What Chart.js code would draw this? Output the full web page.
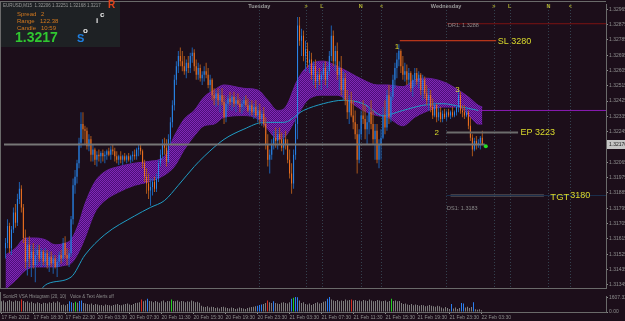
<!DOCTYPE html>
<html><head><meta charset="utf-8">
<script src="https://cdn.jsdelivr.net/npm/chart.js@4.4.1/dist/chart.umd.min.js"></script>
<style>
html,body{margin:0;padding:0;background:#1c0e1a;overflow:hidden;}
#wrap{position:relative;width:625px;height:321px;background:#1c0e1a;}
#main{position:absolute;left:0;top:0;width:625px;height:292px;}
#hist{position:absolute;left:0;top:292px;width:625px;height:29px;}
</style></head>
<body><div id="wrap">
<canvas id="main" width="625" height="292"></canvas>
<canvas id="hist" width="625" height="29"></canvas>
</div>
<script>
// ---------------- DATA ----------------
const timeLabels = ["17 Feb 2012","17 Feb 18:30","17 Feb 22:30","20 Feb 03:30","20 Feb 07:30","20 Feb 11:30","20 Feb 15:30","20 Feb 19:30","20 Feb 23:30","21 Feb 03:30","21 Feb 07:30","21 Feb 11:30","21 Feb 15:30","21 Feb 19:30","21 Feb 23:30","22 Feb 03:30"];
const priceTicks = [1.32965,1.32875,1.32785,1.32695,1.32605,1.32515,1.32425,1.32335,1.32245,1.32155,1.32065,1.31975,1.31885,1.31795,1.31705,1.31615,1.31525,1.31435,1.31345];
const histTicks = [1607.32, 0];

const opens = [1.3156,1.3159,1.3169,1.3156,1.3167,1.3177,1.3171,1.3185,1.3191,1.3180,
1.3162,1.3148,1.3158,1.3150,1.3154,1.3146,1.3152,1.3155,1.3150,1.3154,
1.3148,1.3153,1.3146,1.3151,1.3147,1.3150,1.3145,1.3148,1.3152,1.3150,
1.3159,1.3152,1.3150,1.3153,1.3173,1.3193,1.3198,1.3206,1.3218,1.3229,
1.3226,1.3225,1.3216,1.3220,1.3211,1.3214,1.3208,1.3211,1.3210,1.3212,
1.3210,1.3211,1.3213,1.3211,1.3214,1.3213,1.3210,1.3208,1.3210,1.3208,
1.3210,1.3208,1.3210,1.3208,1.3210,1.3211,1.3210,1.3214,1.3215,1.3213,
1.3206,1.3198,1.3194,1.3190,1.3192,1.3195,1.3191,1.3197,1.3206,1.3211,
1.3217,1.3215,1.3207,1.3220,1.3230,1.3240,1.3255,1.3263,1.3269,1.3266,
1.3263,1.3260,1.3265,1.3262,1.3269,1.3271,1.3263,1.3258,1.3262,1.3256,
1.3258,1.3260,1.3258,1.3252,1.3255,1.3246,1.3244,1.3247,1.3243,1.3246,
1.3242,1.3233,1.3241,1.3244,1.3242,1.3245,1.3241,1.3243,1.3241,1.3239,
1.3241,1.3243,1.3240,1.3237,1.3240,1.3236,1.3239,1.3234,1.3237,1.3232,
1.3235,1.3229,1.3217,1.3208,1.3211,1.3217,1.3221,1.3219,1.3223,1.3220,
1.3215,1.3220,1.3217,1.3208,1.3200,1.3194,1.3211,1.3229,1.3287,1.3278,
1.3281,1.3269,1.3273,1.3265,1.3267,1.3258,1.3263,1.3254,1.3258,1.3255,
1.3258,1.3262,1.3255,1.3260,1.3269,1.3281,1.3266,1.3272,1.3258,1.3262,
1.3249,1.3256,1.3243,1.3236,1.3243,1.3234,1.3230,1.3223,1.3208,1.3223,
1.3234,1.3232,1.3226,1.3230,1.3236,1.3229,1.3220,1.3225,1.3208,1.3217,
1.3221,1.3234,1.3227,1.3246,1.3233,1.3245,1.3255,1.3262,1.3267,1.3272,
1.3263,1.3258,1.3260,1.3255,1.3259,1.3250,1.3255,1.3259,1.3254,1.3258,
1.3249,1.3255,1.3247,1.3243,1.3246,1.3239,1.3234,1.3240,1.3233,1.3236,
1.3232,1.3235,1.3233,1.3236,1.3234,1.3236,1.3234,1.3236,1.3239,1.3246,
1.3237,1.3236,1.3234,1.3236,1.3228,1.3221,1.3214,1.3219,1.3217,1.3218,
1.3221];
const highs = [1.3162,1.3173,1.3171,1.3169,1.3180,1.3182,1.3188,1.3195,1.3193,1.3182,
1.3167,1.3162,1.3163,1.3158,1.3159,1.3156,1.3158,1.3158,1.3156,1.3155,
1.3156,1.3155,1.3154,1.3154,1.3152,1.3152,1.3150,1.3154,1.3155,1.3162,
1.3163,1.3156,1.3155,1.3175,1.3197,1.3202,1.3208,1.3221,1.3236,1.3236,
1.3228,1.3227,1.3223,1.3222,1.3217,1.3215,1.3213,1.3214,1.3213,1.3214,
1.3213,1.3214,1.3215,1.3216,1.3217,1.3215,1.3213,1.3211,1.3213,1.3211,
1.3212,1.3211,1.3212,1.3211,1.3213,1.3214,1.3215,1.3217,1.3217,1.3214,
1.3208,1.3203,1.3200,1.3197,1.3197,1.3198,1.3200,1.3208,1.3214,1.3220,
1.3221,1.3220,1.3223,1.3233,1.3243,1.3258,1.3266,1.3272,1.3274,1.3272,
1.3269,1.3267,1.3269,1.3271,1.3274,1.3273,1.3267,1.3265,1.3264,1.3260,
1.3263,1.3265,1.3262,1.3258,1.3256,1.3250,1.3249,1.3250,1.3249,1.3250,
1.3246,1.3243,1.3246,1.3248,1.3246,1.3248,1.3245,1.3247,1.3244,1.3243,
1.3245,1.3246,1.3244,1.3242,1.3243,1.3241,1.3243,1.3240,1.3241,1.3237,
1.3239,1.3233,1.3223,1.3214,1.3220,1.3225,1.3227,1.3226,1.3227,1.3224,
1.3223,1.3225,1.3220,1.3214,1.3206,1.3214,1.3232,1.3292,1.3292,1.3285,
1.3284,1.3278,1.3277,1.3272,1.3271,1.3266,1.3267,1.3260,1.3262,1.3260,
1.3265,1.3266,1.3263,1.3272,1.3287,1.3284,1.3275,1.3277,1.3266,1.3269,
1.3260,1.3259,1.3249,1.3246,1.3248,1.3243,1.3237,1.3229,1.3226,1.3237,
1.3243,1.3240,1.3234,1.3239,1.3243,1.3237,1.3229,1.3229,1.3220,1.3226,
1.3239,1.3243,1.3249,1.3252,1.3248,1.3258,1.3265,1.3271,1.3276,1.3273,
1.3269,1.3265,1.3264,1.3262,1.3260,1.3258,1.3262,1.3262,1.3260,1.3259,
1.3258,1.3257,1.3252,1.3250,1.3249,1.3244,1.3242,1.3241,1.3239,1.3239,
1.3237,1.3238,1.3237,1.3238,1.3237,1.3239,1.3237,1.3240,1.3249,1.3248,
1.3240,1.3240,1.3239,1.3237,1.3233,1.3223,1.3221,1.3222,1.3220,1.3222,
1.3225];
const lows = [1.3150,1.3156,1.3153,1.3152,1.3165,1.3168,1.3169,1.3182,1.3177,1.3159,
1.3144,1.3140,1.3145,1.3139,1.3144,1.3136,1.3146,1.3148,1.3145,1.3146,
1.3145,1.3144,1.3142,1.3145,1.3141,1.3144,1.3139,1.3145,1.3147,1.3148,
1.3150,1.3146,1.3145,1.3151,1.3170,1.3188,1.3194,1.3203,1.3215,1.3220,
1.3217,1.3214,1.3213,1.3207,1.3207,1.3205,1.3204,1.3207,1.3206,1.3207,
1.3206,1.3208,1.3210,1.3208,1.3211,1.3207,1.3206,1.3205,1.3206,1.3205,
1.3207,1.3206,1.3207,1.3206,1.3207,1.3208,1.3208,1.3210,1.3211,1.3203,
1.3195,1.3188,1.3185,1.3181,1.3187,1.3189,1.3189,1.3195,1.3204,1.3208,
1.3211,1.3204,1.3206,1.3217,1.3227,1.3237,1.3252,1.3259,1.3263,1.3260,
1.3258,1.3256,1.3259,1.3259,1.3265,1.3260,1.3255,1.3255,1.3254,1.3252,
1.3254,1.3256,1.3250,1.3248,1.3243,1.3240,1.3239,1.3240,1.3236,1.3240,
1.3229,1.3230,1.3237,1.3240,1.3237,1.3239,1.3236,1.3240,1.3236,1.3235,
1.3237,1.3239,1.3236,1.3234,1.3234,1.3232,1.3233,1.3230,1.3229,1.3228,
1.3227,1.3214,1.3204,1.3200,1.3208,1.3214,1.3215,1.3214,1.3217,1.3213,
1.3211,1.3214,1.3206,1.3197,1.3188,1.3191,1.3208,1.3220,1.3275,1.3269,
1.3266,1.3260,1.3262,1.3259,1.3255,1.3252,1.3250,1.3249,1.3252,1.3249,
1.3255,1.3252,1.3250,1.3258,1.3266,1.3263,1.3260,1.3255,1.3249,1.3246,
1.3243,1.3240,1.3232,1.3229,1.3233,1.3226,1.3220,1.3200,1.3206,1.3220,
1.3229,1.3220,1.3217,1.3223,1.3226,1.3217,1.3208,1.3206,1.3203,1.3208,
1.3220,1.3223,1.3225,1.3229,1.3230,1.3243,1.3250,1.3256,1.3263,1.3259,
1.3255,1.3254,1.3252,1.3252,1.3248,1.3245,1.3251,1.3252,1.3250,1.3246,
1.3243,1.3244,1.3240,1.3237,1.3236,1.3232,1.3233,1.3230,1.3231,1.3230,
1.3230,1.3232,1.3231,1.3233,1.3232,1.3233,1.3233,1.3234,1.3236,1.3235,
1.3233,1.3232,1.3233,1.3226,1.3219,1.3210,1.3213,1.3214,1.3215,1.3214,
1.3217];
const closes = [1.3159,1.3169,1.3156,1.3167,1.3177,1.3171,1.3185,1.3191,1.3180,1.3162,
1.3148,1.3158,1.3150,1.3154,1.3146,1.3152,1.3155,1.3150,1.3154,1.3148,
1.3153,1.3146,1.3151,1.3147,1.3150,1.3145,1.3148,1.3152,1.3150,1.3159,
1.3152,1.3150,1.3153,1.3173,1.3193,1.3198,1.3206,1.3218,1.3229,1.3226,
1.3225,1.3216,1.3220,1.3211,1.3214,1.3208,1.3211,1.3210,1.3212,1.3210,
1.3211,1.3213,1.3211,1.3214,1.3213,1.3210,1.3208,1.3210,1.3208,1.3210,
1.3208,1.3210,1.3208,1.3210,1.3211,1.3210,1.3214,1.3215,1.3213,1.3206,
1.3198,1.3194,1.3190,1.3192,1.3195,1.3191,1.3197,1.3206,1.3211,1.3217,
1.3215,1.3207,1.3220,1.3230,1.3240,1.3255,1.3263,1.3269,1.3266,1.3263,
1.3260,1.3265,1.3262,1.3269,1.3271,1.3263,1.3258,1.3262,1.3256,1.3258,
1.3260,1.3258,1.3252,1.3255,1.3246,1.3244,1.3247,1.3243,1.3246,1.3242,
1.3233,1.3241,1.3244,1.3242,1.3245,1.3241,1.3243,1.3241,1.3239,1.3241,
1.3243,1.3240,1.3237,1.3240,1.3236,1.3239,1.3234,1.3237,1.3232,1.3235,
1.3229,1.3217,1.3208,1.3211,1.3217,1.3221,1.3219,1.3223,1.3220,1.3215,
1.3220,1.3217,1.3208,1.3200,1.3194,1.3211,1.3229,1.3287,1.3278,1.3281,
1.3269,1.3273,1.3265,1.3267,1.3258,1.3263,1.3254,1.3258,1.3255,1.3258,
1.3262,1.3255,1.3260,1.3269,1.3281,1.3266,1.3272,1.3258,1.3262,1.3249,
1.3256,1.3243,1.3236,1.3243,1.3234,1.3230,1.3223,1.3208,1.3223,1.3234,
1.3232,1.3226,1.3230,1.3236,1.3229,1.3220,1.3225,1.3208,1.3217,1.3221,
1.3234,1.3227,1.3246,1.3233,1.3245,1.3255,1.3262,1.3267,1.3272,1.3263,
1.3258,1.3260,1.3255,1.3259,1.3250,1.3255,1.3259,1.3254,1.3258,1.3249,
1.3255,1.3247,1.3243,1.3246,1.3239,1.3234,1.3240,1.3233,1.3236,1.3232,
1.3235,1.3233,1.3236,1.3234,1.3236,1.3234,1.3236,1.3239,1.3246,1.3237,
1.3236,1.3234,1.3236,1.3228,1.3221,1.3214,1.3219,1.3217,1.3218,1.3221,
1.3217];

// Sonic R dragon band (upper / lower) and slow MA, sampled at bar indices
const bandBars  = [0,5,10,15,20,25,30,33,37,40,45,50,57,65,72,80,85,90,95,100,105,110,120,127,132,137,141,147,152,160,167,172,180,187,192,200,206,211,220,228,234,238,240];
const bandUpper = [1.3152,1.3156,1.3162,1.3162,1.3161,1.3158,1.3159,1.3161,1.3171,1.3182,1.3195,1.3201,1.3204,1.3206,1.3207,1.3210,1.3222,1.3232,1.3237,1.3245,1.3249,1.3252,1.3250,1.3249,1.3243,1.3237,1.3239,1.3255,1.3263,1.3266,1.3263,1.3260,1.3255,1.3252,1.3252,1.3251,1.3255,1.3256,1.3254,1.3249,1.3244,1.3240,1.3239];
const bandLower = [1.3132,1.3137,1.3143,1.3145,1.3145,1.3145,1.3146,1.3147,1.3154,1.3162,1.3177,1.3184,1.3189,1.3193,1.3195,1.3199,1.3204,1.3214,1.3222,1.3228,1.3229,1.3233,1.3234,1.3232,1.3226,1.3220,1.3222,1.3234,1.3243,1.3246,1.3246,1.3243,1.3237,1.3234,1.3233,1.3228,1.3233,1.3236,1.3239,1.3239,1.3233,1.3229,1.3229];
const maBars = [15,21,33,40,50,65,73,80,87,95,100,110,120,130,140,150,160,170,180,190,200,210,220,230,238];
const maVals = [1.3128,1.3135,1.3139,1.3152,1.3164,1.3175,1.3180,1.3184,1.3193,1.3204,1.3210,1.3220,1.3226,1.3230,1.3230,1.3237,1.3241,1.3243,1.3241,1.3234,1.3237,1.3240,1.3241,1.3239,1.3237];

// Histogram sub-window (tick volume) and coloured bars
const volume = [1200,1300,1100,1250,1350,1200,1150,1300,1250,1200,
1400,
1250,1100,1200,1050,1150,1000,950,1100,1000,900,1050,1000,950,1100,1000,1150,1050,1200,1100,
800,850,750,900,
1200,1100,1000,1150,1050,1250,1300,
1000,950,900,850,950,800,900,850,750,800,700,850,800,750,700,800,850,900,800,750,850,900,950,850,800,900,1000,
1050,1100,1400,1200,1300,1500,1250,
1200,1100,1250,1150,1050,1200,1300,1100,1250,1200,
1400,
1250,1200,1300,1150,1250,1200,1100,1200,1150,1300,1200,1100,1150,1050,
700,600,550,650,500,600,550,450,500,400,550,600,500,450,400,500,450,350,400,500,450,400,350,450,500,550,600,650,
700,800,850,
900,1000,1300,1100,1000,1200,
1000,950,900,1050,1100,1000,950,1100,
1500,1600,1700,1650,1300,
1000,1100,900,850,950,800,900,1000,1100,950,1000,1150,1200,
1500,1700,1400,
1300,1250,1350,1200,1300,1250,1400,1300,1350,
1400,
1300,1350,1250,1300,1200,1350,1300,1250,1400,1300,1200,1250,1350,1300,1200,1250,1300,1150,1250,
1500,
1250,1300,1200,1250,
1000,900,950,850,800,900,750,850,800,700,800,750,650,700,800,700,650,600,700,650,
500,400,550,450,350,
900,
400,500,350,450,
1000,950,
500,600,450,550,
1100,
300,250,300,200];
const blueBars  = [34,35,39,40,73,128,129,130,136,145,147,148,163,164,225,230,231,236];
const redBars   = [10,70,133,175];
const greenBars = [37,85,146,195];

// Levels & annotations (price / bar anchors)
const levels = [
  {name:'DS1',  price:1.3187, from:222.0, to:302.25, color:'#1b2f4c', width:1},
  {name:'DR1',  price:1.3288, from:222.25, to:302.25, color:'#7c1212', width:1},
  {name:'SL',   price:1.3278, from:198.5, to:247.0, color:'#e2401c', width:1},
  {name:'EP',   price:1.3224, from:222.0, to:258.0, color:'#6c6c6c', width:2},
  {name:'TGT',  price:1.3187, from:224.0, to:271.0, color:'#6c6c6c', width:2},
  {name:'Bid',  price:1.3217, from:-0.75, to:241.25, color:'#767676', width:2},
  {name:'Mid',  price:1.3237, from:238.5, to:302.25, color:'#8a1cb4', width:1}
];
const notes = [
  {text:'SL 3280', bar:247.75, price:1.32776, size:9},
  {text:'EP 3223', bar:259.25, price:1.32239, size:9},
  {text:'TGT', bar:274.25, price:1.31858, size:9.5},
  {text:'3180', bar:284.25, price:1.3187, size:9},
  {text:'1', bar:197.0, price:1.32742, size:8},
  {text:'2', bar:217.0, price:1.32239, size:8},
  {text:'3', bar:227.5, price:1.32493, size:8},
  {text:'DR1: 1.3288', bar:222.75, price:1.32869, size:5.5, grey:true},
  {text:'DS1: 1.3183', bar:222.25, price:1.31794, size:5.5, grey:true}
];
const sessions = [
  {bar:127.75, label:'Tuesday', day:true},{bar:151.25, label:'>'},{bar:159.25, label:'L'},{bar:178.75, label:'N'},{bar:189.25, label:'<'},
  {bar:221.75, label:'Wednesday', day:true},{bar:245.75, label:'>'},{bar:253.75, label:'L'},{bar:273.25, label:'N'},{bar:284.25, label:'<'}
];
const lastPrice = 1.3217;

// ---------------- STYLE ----------------
const F = '"Liberation Sans", Arial, sans-serif';
const BG = '#1c0e1a';
const AX = '#8e8e8e';
const FRAME = '#6a6a6a';
const YEL = '#dada2c';

function bandPattern(){
  const c = document.createElement('canvas'); c.width = 2; c.height = 2;
  const g = c.getContext('2d');
  g.fillStyle = '#4c0f78'; g.fillRect(0,0,2,2);
  g.fillStyle = '#8028b6'; g.fillRect(0,0,1,1); g.fillRect(1,1,1,1);
  return g.createPattern(c, 'repeat');
}

const bgPlugin = {id:'bg', beforeDraw(ch){const c=ch.ctx; c.save(); c.fillStyle=BG; c.fillRect(0,0,ch.width,ch.height); c.restore();}};

const mainDecor = {
  id:'mainDecor',
  beforeDatasetsDraw(ch){
    const c = ch.ctx, a = ch.chartArea, xs = ch.scales.x;
    c.save();
    c.strokeStyle = '#34414e'; c.lineWidth = 1; c.setLineDash([1,2]);
    sessions.forEach(s => {
      const x = Math.round(xs.getPixelForValue(s.bar)) + 0.5;
      c.beginPath(); c.moveTo(x, a.top); c.lineTo(x, a.bottom); c.stroke();
    });
    c.restore();
  },
  afterDatasetsDraw(ch){
    const c = ch.ctx, xs = ch.scales.x, ys = ch.scales.y, a = ch.chartArea;
    c.save();
    c.textBaseline = 'middle'; c.textAlign = 'center';
    sessions.forEach(s => {
      c.font = 'bold 5.5px ' + F;
      c.fillStyle = s.day ? '#9c9c9c' : '#b4b432';
      c.fillText(s.label, xs.getPixelForValue(s.bar), 6);
    });
    notes.forEach(n => {
      c.font = n.size + 'px ' + F;
      c.fillStyle = n.grey ? '#8a8a8a' : YEL;
      c.textAlign = n.text.length === 1 ? 'center' : 'left';
      c.fillText(n.text, xs.getPixelForValue(n.bar), ys.getPixelForValue(n.price));
    });
    c.strokeStyle = FRAME; c.lineWidth = 1; c.setLineDash([]);
    c.beginPath(); c.moveTo(0, 1.5); c.lineTo(a.right, 1.5); c.stroke();
    c.beginPath(); c.moveTo(0.5, 1.5); c.lineTo(0.5, a.bottom); c.stroke();
    c.beginPath(); c.moveTo(0, a.bottom + 0.5); c.lineTo(a.right, a.bottom + 0.5); c.stroke();
    c.restore();
  },
  afterDraw(ch){
    const c = ch.ctx, ys = ch.scales.y, a = ch.chartArea;
    c.save();
    const yp = ys.getPixelForValue(lastPrice);
    c.fillStyle = '#c4c4c4'; c.fillRect(a.right + 1, Math.round(yp) - 4, 19, 9);
    c.fillStyle = '#1a1a1a'; c.font = '5px ' + F; c.textBaseline = 'middle'; c.textAlign = 'left';
    c.fillText(lastPrice.toFixed(5), a.right + 3, Math.round(yp) + 0.5);
    c.fillStyle = '#1e2124'; c.fillRect(1, 2, 119, 45);
    c.fillStyle = '#9a9a9a'; c.font = '4.5px ' + F;
    c.fillText('EURUSD,M15  1.32206 1.32251 1.32168 1.3217', 3, 6);
    c.fillStyle = '#d2781e'; c.font = '6px ' + F;
    c.fillText('Spread', 17, 14); c.fillText('2', 41, 14);
    c.fillText('Range', 17, 21); c.fillText('122.38', 40, 21);
    c.fillText('Candle', 17, 28); c.fillText('10:59', 41, 28);
    c.fillStyle = '#30c830'; c.font = 'bold 14px ' + F;
    c.fillText('1.3217', 15, 38);
    c.font = 'bold 11px ' + F; c.fillStyle = '#1f7fe0'; c.fillText('S', 77, 39);
    c.fillStyle = '#e8e8e8'; c.font = 'bold 8px ' + F;
    c.fillText('o', 83, 31); c.fillText('i', 96, 21); c.fillText('c', 100, 15);
    c.fillStyle = '#e2421a'; c.font = 'bold 10px ' + F; c.fillText('R', 108, 5);
    c.restore();
  }
};

// ---------------- MAIN CHART ----------------
const idx = opens.map((o, i) => i);
const upCol = i => closes[i] >= opens[i];
const mainDatasets = [
  ...levels.map(l => ({type:'line', data:[{x:l.from, y:l.price},{x:l.to, y:l.price}], borderColor:l.color, borderWidth:l.width, pointRadius:0, fill:false, order:2})),
  {type:'scatter', data:[{x:241.75, y:1.3216}], pointRadius:2, pointBackgroundColor:'#22e022', pointBorderWidth:0, order:1},
  {type:'bar', data: idx.map(i => ({x:i, y:[lows[i], highs[i]]})), backgroundColor: idx.map(i => upCol(i) ? '#1d5fae' : '#a8561c'),
   barThickness:1, grouped:false, inflateAmount:0, borderWidth:0, order:4},
  {type:'bar', data: idx.map(i => ({x:i, y:[opens[i], closes[i]]})), backgroundColor: idx.map(i => upCol(i) ? '#2a86ea' : '#f07020'),
   barThickness:1, grouped:false, inflateAmount:0, borderWidth:0, order:3},
  {type:'line', data: maBars.map((b,k) => ({x:b, y:maVals[k]})), borderColor:'#1f9cc4', borderWidth:1, pointRadius:0, fill:false, cubicInterpolationMode:'monotone', order:6},
  {type:'line', data: bandBars.map((b,k) => ({x:b, y:bandUpper[k]})), borderColor:'#6a1ea0', borderWidth:1, pointRadius:0, fill:'+1', backgroundColor: bandPattern(), cubicInterpolationMode:'monotone', order:8},
  {type:'line', data: bandBars.map((b,k) => ({x:b, y:bandLower[k]})), borderColor:'#6a1ea0', borderWidth:1, pointRadius:0, fill:false, cubicInterpolationMode:'monotone', order:9}
];

new Chart(document.getElementById('main'), {
  type:'bar',
  data:{datasets: mainDatasets},
  options:{
    responsive:false, animation:false, events:[],
    layout:{padding:{top:2, bottom:1, left:0, right:0}},
    plugins:{legend:{display:false}, tooltip:{enabled:false}},
    scales:{
      x:{type:'linear', offset:false, min:-0.75, max:302.25, display:false},
      y:{type:'linear', position:'right', min:1.31326, max:1.32996,
         afterBuildTicks: ax => { ax.ticks = priceTicks.map(v => ({value:v})); },
         afterFit: s => { s.width = 19; },
         ticks:{autoSkip:false, padding:1, color:AX, font:{size:5, family:F}, callback: v => Number(v).toFixed(5)},
         grid:{drawOnChartArea:false, tickLength:2, color:AX},
         border:{display:true, color:FRAME}}
    }
  },
  plugins:[bgPlugin, mainDecor]
});

// ---------------- HISTOGRAM ----------------
const histColor = i => blueBars.includes(i) ? '#2a7ef0' : redBars.includes(i) ? '#d42a1e' : greenBars.includes(i) ? '#1ed21e' : '#7c7c7c';
const histTitle = {id:'histTitle', afterDatasetsDraw(ch){
  const c = ch.ctx; c.save(); c.fillStyle = '#8e8e8e'; c.font = '4.5px ' + F; c.textBaseline = 'middle';
  c.fillText('SonicR VSA Histogram (20, 10)   Voice & Text Alerts off', 3, 4.5);
  c.strokeStyle = FRAME; c.beginPath(); c.moveTo(0.5, 0); c.lineTo(0.5, ch.chartArea.bottom); c.stroke();
  c.restore();
}};
new Chart(document.getElementById('hist'), {
  type:'bar',
  data:{datasets:[{data: volume.map((v,i) => ({x:i, y:v})), backgroundColor: volume.map((v,i) => histColor(i)),
    barThickness:1, grouped:false, inflateAmount:0, borderWidth:0}]},
  options:{
    responsive:false, animation:false, events:[],
    layout:{padding:{top:1, bottom:0, left:0, right:0}},
    plugins:{legend:{display:false}, tooltip:{enabled:false}},
    scales:{
      x:{type:'linear', offset:false, min:-0.75, max:302.25,
         afterBuildTicks: ax => { ax.ticks = timeLabels.map((t,k) => ({value:k*16})); },
         afterFit: s => { s.height = 9; },
         ticks:{align:'start', autoSkip:false, maxRotation:0, minRotation:0, padding:1, color:AX, font:{size:5, family:F},
                callback: v => timeLabels[Math.round(v/16)]},
         grid:{drawOnChartArea:false, offset:false, tickLength:2, color:AX},
         border:{display:true, color:FRAME}},
      y:{position:'right', min:0, max:1800,
         afterBuildTicks: ax => { ax.ticks = histTicks.map(v => ({value:v})); },
         afterFit: s => { s.width = 19; },
         ticks:{autoSkip:false, padding:1, color:AX, font:{size:5, family:F}, callback: v => Number(v).toFixed(2)},
         grid:{drawOnChartArea:false, tickLength:2, color:AX},
         border:{display:true, color:FRAME}}
    }
  },
  plugins:[bgPlugin, histTitle]
});
</script>
</body></html>
